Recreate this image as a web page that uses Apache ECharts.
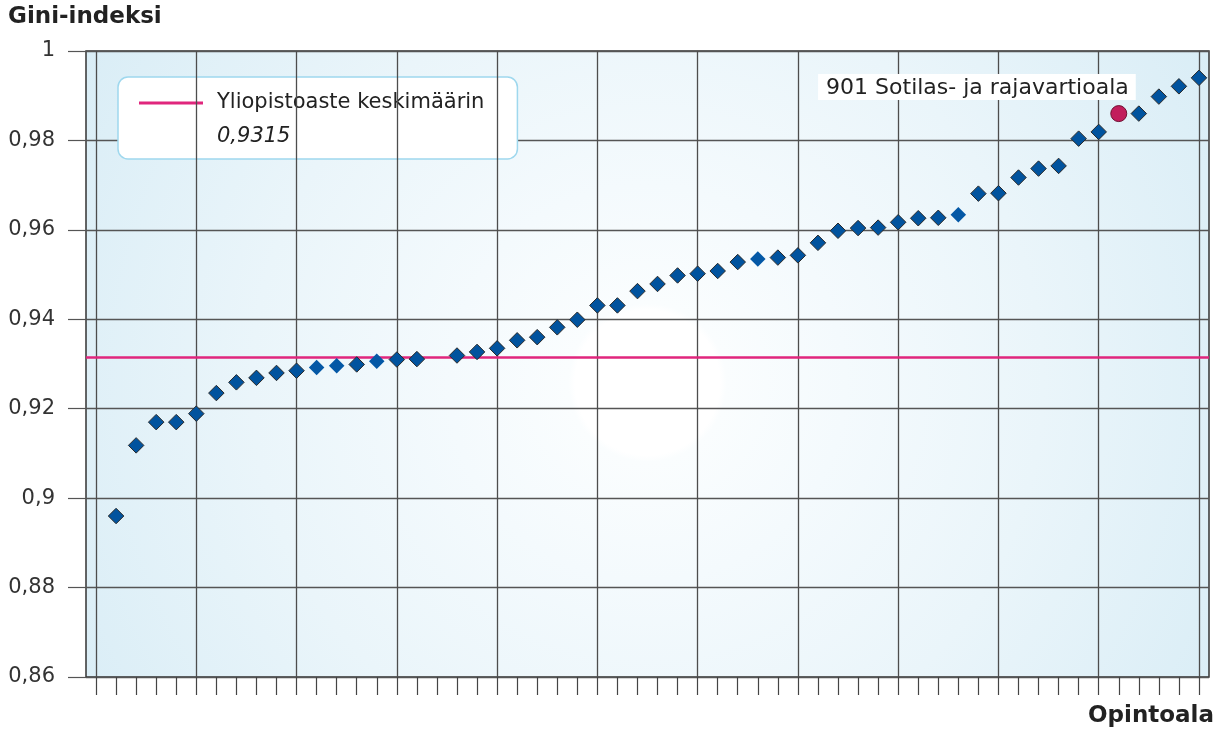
<!DOCTYPE html>
<html><head><meta charset="utf-8">
<script src="https://cdn.jsdelivr.net/npm/echarts@6/dist/echarts.min.js"></script>
<style>html,body{margin:0;padding:0;background:#fff}#c{width:1226px;height:736px}</style>
</head><body><div id="c"></div>
<script>
// ---- data ----
const categories = Array.from({length: 56}, (_, i) => String(i + 1));
const gini = [null, 0.8960, 0.9118, 0.9170, 0.9170, 0.9189, 0.9235, 0.9259, 0.9269, 0.9280,
  0.9285, 0.9292, 0.9296, 0.9299, 0.9306, 0.9310, 0.9311, null, 0.9319, 0.9327,
  0.9335, 0.9353, 0.9360, 0.9382, 0.9399, 0.9431, 0.9431, 0.9463, 0.9479, 0.9498,
  0.9502, 0.9508, 0.9528, 0.9535, 0.9538, 0.9543, 0.9571, 0.9598, 0.9604, 0.9605,
  0.9617, 0.9626, 0.9627, 0.9634, 0.9681, 0.9682, 0.9717, 0.9737, 0.9743, 0.9804,
  0.9819, 0.9860, 0.9860, 0.9898, 0.9921, 0.9940];
const highlightIndex = 51;
const highlightLabel = '901 Sotilas- ja rajavartioala';
const meanName = 'Yliopistoaste keskimäärin';
const meanValue = 0.9315;
const noOutline = [11, 12, 14, 33, 43];
const yMin = 0.86, yMax = 1, yStep = 0.02;
const gridCategories = [0, 5, 10, 15, 20, 25, 30, 35, 40, 45, 50, 55];
const yTitle = 'Gini-indeksi';
const xTitle = 'Opintoala';

const fmt = v => String(+v.toFixed(4)).replace('.', ',');
const FONT = 'DejaVu Sans';
const BLUE = '#01539e';
const PINK = '#e0267d';

const mainData = gini.map((v, i) => {
  if (v == null || i === highlightIndex) return null;
  if (noOutline.includes(i)) return {value: v, itemStyle: {borderWidth: 0, color: '#0458a6'}};
  return v;
});
const hiData = gini.map((v, i) => i === highlightIndex ? v : null);

const chart = echarts.init(document.getElementById('c'), null, {renderer: 'canvas'});
chart.setOption({
  animation: false,
  textStyle: {fontFamily: FONT},
  title: [
    {text: yTitle, left: 8, top: 6, padding: 0,
     textStyle: {fontFamily: FONT, fontSize: 23, fontWeight: 'bold', color: '#222'}},
    {text: xTitle, right: 12, top: 705, padding: 0,
     textStyle: {fontFamily: FONT, fontSize: 23, fontWeight: 'bold', color: '#222'}}
  ],
  legend: {
    data: [meanName], left: 118, top: 77,
    padding: [13, 33, 43, 21],
    itemWidth: 64, itemHeight: 3, icon: 'rect',
    backgroundColor: '#fff', borderColor: '#9fd8ee', borderWidth: 1.5, borderRadius: 10,
    textStyle: {fontFamily: FONT, fontSize: 21, color: '#222', padding: [0, 0, 0, 9], lineHeight: 26},
    selectedMode: false
  },
  graphic: [{
    type: 'text', left: 217, top: 126, z: 100,
    style: {text: fmt(meanValue), font: 'italic 21px "DejaVu Sans"', fill: '#222'}
  }],
  grid: {
    left: 86, right: 17, top: 51, bottom: 59,
    show: true, borderColor: '#333', borderWidth: 1.5,
    backgroundColor: new echarts.graphic.RadialGradient(0.5, 0.53, 1.05, [
      {offset: 0, color: '#ffffff'},
      {offset: 0.11, color: '#ffffff'},
      {offset: 0.12, color: '#fafdfe'},
      {offset: 0.3, color: '#f4fafd'},
      {offset: 0.6, color: '#eaf5fa'},
      {offset: 1, color: '#d9edf6'}
    ])
  },
  xAxis: {
    type: 'category', data: categories, boundaryGap: true,
    axisLine: {show: false},
    axisTick: {show: true, interval: 0, alignWithLabel: true, length: 18,
               lineStyle: {color: '#444', width: 1.2}},
    axisLabel: {show: false},
    splitLine: {show: false}
  },
  yAxis: {
    type: 'value', min: yMin, max: yMax, interval: yStep,
    axisLine: {show: false},
    axisTick: {show: true, length: 18, lineStyle: {color: '#555', width: 1.2}},
    axisLabel: {margin: 31, fontSize: 21, color: '#333', fontFamily: FONT, formatter: fmt},
    splitLine: {show: true, lineStyle: {color: '#555', width: 1.3}}
  },
  series: [
    {
      type: 'line', name: '__grid', data: [], z: 1, silent: true,
      markLine: {
        silent: true, symbol: 'none', label: {show: false},
        lineStyle: {color: '#4d4d4d', width: 1.3, type: 'solid'},
        emphasis: {disabled: true},
        data: gridCategories.map(i => ({xAxis: categories[i]}))
      }
    },
    {
      type: 'line', name: meanName, data: [], z: 2, silent: true,
      color: PINK, itemStyle: {color: PINK}, lineStyle: {color: PINK, width: 3},
      markLine: {
        silent: true, symbol: 'none', label: {show: false}, precision: 4,
        lineStyle: {color: PINK, width: 2.5, type: 'solid'},
        emphasis: {disabled: true},
        data: [{yAxis: meanValue}]
      }
    },
    {
      type: 'scatter', name: 'Opintoalat', data: mainData, z: 5,
      symbol: 'diamond', symbolSize: 15.5,
      itemStyle: {color: BLUE, borderColor: '#2a2a2a', borderWidth: 1, opacity: 1}
    },
    {
      type: 'scatter', name: highlightLabel, data: hiData, z: 6,
      symbol: 'circle', symbolSize: 16,
      itemStyle: {color: '#c21d5c', borderColor: '#6e1032', borderWidth: 1, opacity: 1},
      label: {
        show: true, position: 'top', align: 'right', offset: [17, 0],
        formatter: highlightLabel,
        fontFamily: FONT, fontSize: 22, color: '#222',
        backgroundColor: '#fff', padding: [3, 7, 1, 8]
      }
    }
  ]
});
</script>
</body></html>
